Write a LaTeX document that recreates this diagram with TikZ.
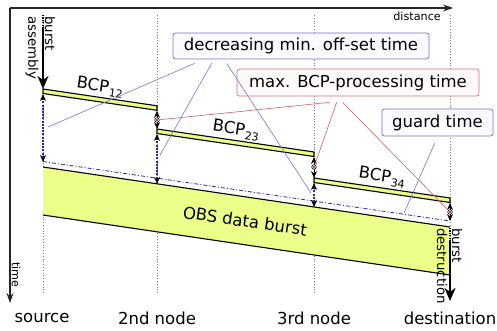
\documentclass[tikz,border=0pt]{standalone}
\usepackage{fontspec}
\setmainfont{DejaVu Sans}
\usetikzlibrary{arrows.meta,calc}

\definecolor{burstfill}{RGB}{236,255,136}
\definecolor{offsetblue}{RGB}{40,40,170}
\definecolor{noteblue}{RGB}{125,125,220}
\definecolor{notered}{RGB}{210,105,105}
\definecolor{boxblue}{RGB}{115,115,205}
\definecolor{boxred}{RGB}{215,115,115}

% control packet label with a lowered index
\newcommand{\bcplabel}[1]{BCP\kern0.6pt\raisebox{-3.5pt}{\fontsize{11}{11}\selectfont #1}}

\begin{document}
\begin{tikzpicture}[x=1pt,y=-1pt,
  nodeline/.style={gray,dotted,line width=0.8pt},
  axis/.style={black!85,line width=1.1pt,-{Stealth[length=10pt,width=7pt]}},
  bar/.style={fill=burstfill,draw=black,line width=1.1pt},
  edge/.style={black,line width=1.1pt},
  guardline/.style={offsetblue,line width=0.8pt,dash pattern=on 4pt off 2pt on 1pt off 2pt},
  offsetarrow/.style={offsetblue,line width=1.3pt,dash pattern=on 2pt off 1.2pt,
    {Stealth[black,length=7pt,width=6pt]}-{Stealth[black,length=7pt,width=6pt]}},
  procarrow/.style={black,line width=1pt,
    {Stealth[length=7pt,width=6pt]}-{Stealth[length=7pt,width=6pt]}},
  marker/.style={circle,draw=black,fill=white,inner sep=0pt,minimum size=4.5pt,line width=0.6pt,
    path picture={\fill[red!80!black] (path picture bounding box.center) circle (1.1pt);}},
  bigarrow/.style={black,line width=2.4pt,-{Stealth[length=13pt,width=11pt,inset=4pt]}},
  bigdots/.style={black,line width=2.4pt,dash pattern=on 1.2pt off 1.2pt},
  lbl/.style={inner sep=0pt,font=\fontsize{16.5}{19}\selectfont},
  small/.style={inner sep=0pt,font=\fontsize{13.3}{15}\selectfont},
  tiny/.style={inner sep=0pt,font=\fontsize{11.2}{13}\selectfont},
  notebox/.style={rounded corners=2.5pt,line width=0.7pt,inner sep=0pt,
    font=\fontsize{16.5}{19}\selectfont},
  bluebox/.style={notebox,draw=boxblue,fill=blue!2},
  redbox/.style={notebox,draw=boxred,fill=red!2},
  bluenote/.style={noteblue,line width=0.65pt},
  rednote/.style={notered,line width=0.65pt},
  slant/.style={rotate=-8.36}
]
\useasboundingbox (0,0) rectangle (497,331);

% vertical time lines of the nodes
\foreach \x in {43,157,314,450}
  \draw[nodeline] (\x,15) -- (\x,293);

% axes
\coordinate (origin) at (10,8);
\coordinate (xend) at (453,8);
\coordinate (yend) at (10,303);
\draw[axis] (origin) -- (xend);
\draw[axis] (origin) -- (yend);
\node[tiny,anchor=east] (distlbl) at (441,16) {distance};
\node[tiny,rotate=-90] (timelbl) at (16,275) {time};

% the data burst
\coordinate (b1) at (43,167);
\coordinate (b2) at (450,227);
\coordinate (b3) at (450,275);
\coordinate (b4) at (43,215);
\fill[burstfill] (b1) -- (b2) -- (b3) -- (b4) -- cycle;
\draw[edge] (b1) -- (b2);
\draw[edge] (b4) -- (b3);
\node[lbl,slant] (obs) at (245,221) {OBS data burst};

% guard time line
\coordinate (g1) at (43,161.5);
\coordinate (g2) at (450,221);
\draw[guardline] (g1) -- (g2);

% burst control packets
\draw[bar] (43,89) -- (157,105.8) -- (157,110.3) -- (43,93.5) -- cycle;
\draw[bar] (157,129) -- (314,152) -- (314,156.5) -- (157,133.5) -- cycle;
\draw[bar] (314,178) -- (450,198) -- (450,202.5) -- (314,182.5) -- cycle;
\node[lbl,slant] (bcp12) at (100,87) {\bcplabel{12}};
\node[lbl,slant] (bcp23) at (236,130) {\bcplabel{23}};
\node[lbl,slant] (bcp34) at (382,177) {\bcplabel{34}};

% offset times between control packet and burst
\draw[offsetarrow] (43,94) -- (43,162);
\draw[offsetarrow] (157,134) -- (157,184);
\draw[offsetarrow] (314,183) -- (314,207);

% processing times at the intermediate nodes
\draw[procarrow] (157,110.8) -- (157,129);
\draw[procarrow] (314,157) -- (314,178);
\draw[procarrow] (450,203) -- (450,221);
\node[marker] (m2) at (157,120) {};
\node[marker] (m3) at (314,167) {};
\node[marker] (m4) at (450,212) {};

% burst assembly and destruction
\draw[bigdots] (43,15) -- (43,27);
\draw[bigarrow] (43,27) -- (43,89);
\node[small,rotate=-90,anchor=west] (asm1) at (50,16) {burst};
\node[small,rotate=-90,anchor=west] (asm2) at (32,16) {assembly};
\draw[bigdots] (450,228) -- (450,240);
\draw[bigarrow] (450,240) -- (450,301);
\node[small,rotate=-90,anchor=west] (des1) at (457,228) {burst};
\node[small,rotate=-90,anchor=west] (des2) at (442,228) {destruction};

% node names
\node[lbl] (srclbl) at (42,318) {source};
\node[lbl] (n2lbl) at (157,318) {2nd node};
\node[lbl] (n3lbl) at (314,318) {3rd node};
\node[lbl] (dstlbl) at (450,318) {destination};

% annotation boxes
\node[bluebox,minimum width=256pt,minimum height=26pt] (offbox) at (301,46)
  {decreasing min. off-set time};
\node[redbox,minimum width=242pt,minimum height=27pt] (procbox) at (358,82.5)
  {max. BCP-processing time};
\node[bluebox,minimum width=111pt,minimum height=27pt] (guardbox) at (437.5,122.5)
  {guard time};

% annotation leaders
\coordinate (o1) at (48,127);
\coordinate (o2) at (160,155);
\coordinate (o3) at (311,193);
\draw[bluenote] ($(offbox.south west)+(22,4)$) -- (o1);
\draw[bluenote] ($(offbox.south west)+(39,4)$) -- (o2);
\draw[bluenote] ($(offbox.south west)+(54,4)$) -- (o3);
\draw[rednote] ($(procbox.south west)+(93,6)$) -- (m2);
\draw[rednote] ($(procbox.south west)+(100,6)$) -- (m3);
\draw[rednote] ($(procbox.south west)+(106,6)$) -- (m4);
\coordinate (gt) at (404,213);
\draw[bluenote] ($(guardbox.south west)+(53,7)$) -- (gt);
\end{tikzpicture}
\end{document}
